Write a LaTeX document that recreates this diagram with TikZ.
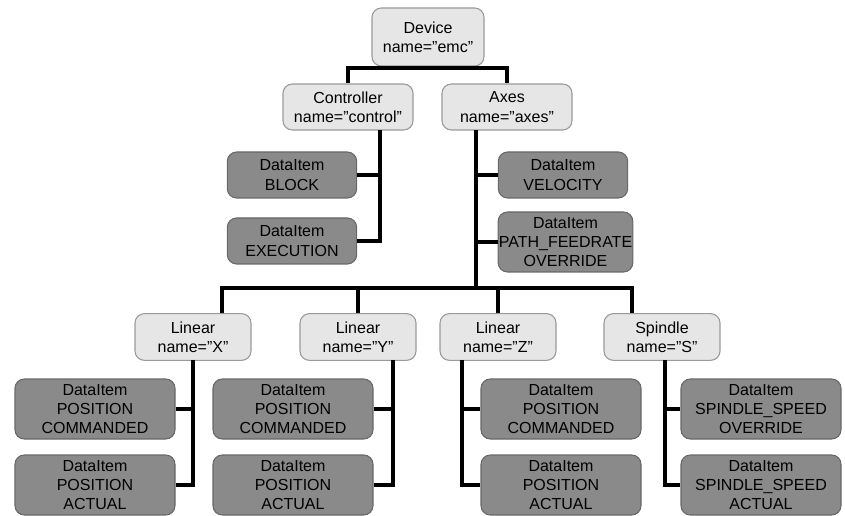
\documentclass[tikz,border=0pt]{standalone}
\usepackage{fontspec}
\setmainfont{Liberation Sans}
\definecolor{lightfill}{HTML}{E6E6E6}
\definecolor{lightline}{HTML}{9A9A9A}
\definecolor{darkfill}{HTML}{8A8A8A}
\definecolor{darkline}{HTML}{686868}
\begin{document}
\begin{tikzpicture}[x=0.75pt,y=-0.75pt,
  every node/.style={font=\fontsize{12}{14.5}\selectfont, align=center, inner sep=0pt},
  lbox/.style={draw=lightline, fill=lightfill, rounded corners=7pt, line width=0.8pt},
  dbox/.style={draw=darkline, fill=darkfill, rounded corners=7pt, line width=0.8pt},
  conn/.style={draw=black, line width=2.6pt}]
\useasboundingbox (0,0) rectangle (845,516);
% top level
\node[lbox, minimum width=84pt, minimum height=43.5pt] (dev) at (428,37) {Device\\name="emc"};
\node[lbox, minimum width=97.5pt, minimum height=34.5pt] (ctl) at (348,107) {Controller\\name="control"};
\node[lbox, minimum width=97.5pt, minimum height=34.5pt] (axs) at (507,107) {Axes\\name="axes"};
% controller items
\node[dbox, minimum width=97pt, minimum height=34.5pt] (blk) at (292,175) {DataItem\\BLOCK};
\node[dbox, minimum width=97pt, minimum height=34.5pt] (exe) at (292,241) {DataItem\\EXECUTION};
% axes items
\node[dbox, minimum width=97pt, minimum height=34.5pt] (vel) at (563,175) {DataItem\\VELOCITY};
\node[dbox, minimum width=101pt, minimum height=45pt] (pfo) at (565.5,242) {DataItem\\PATH\_FEEDRATE\\OVERRIDE};
% components
\node[lbox, minimum width=87pt, minimum height=35pt] (lx) at (193,337) {Linear\\name="X"};
\node[lbox, minimum width=87pt, minimum height=35pt] (ly) at (358,337) {Linear\\name="Y"};
\node[lbox, minimum width=87pt, minimum height=35pt] (lz) at (498,337) {Linear\\name="Z"};
\node[lbox, minimum width=87pt, minimum height=35pt] (sp) at (662,337) {Spindle\\name="S"};
% leaf data items
\node[dbox, minimum width=120pt, minimum height=45pt] (xc) at (95,409) {DataItem\\POSITION\\COMMANDED};
\node[dbox, minimum width=120pt, minimum height=45pt] (xa) at (95,485) {DataItem\\POSITION\\ACTUAL};
\node[dbox, minimum width=120pt, minimum height=45pt] (yc) at (293,409) {DataItem\\POSITION\\COMMANDED};
\node[dbox, minimum width=120pt, minimum height=45pt] (ya) at (293,485) {DataItem\\POSITION\\ACTUAL};
\node[dbox, minimum width=120pt, minimum height=45pt] (zc) at (561,409) {DataItem\\POSITION\\COMMANDED};
\node[dbox, minimum width=120pt, minimum height=45pt] (za) at (561,485) {DataItem\\POSITION\\ACTUAL};
\node[dbox, minimum width=120pt, minimum height=45pt] (sc) at (761,409) {DataItem\\SPINDLE\_SPEED\\OVERRIDE};
\node[dbox, minimum width=120pt, minimum height=45pt] (sa) at (761,485) {DataItem\\SPINDLE\_SPEED\\ACTUAL};
% connector helper coordinates
\coordinate (b1) at (428,68);
\coordinate (cv) at (380,130);
\coordinate (av) at (476,130);
\coordinate (b2) at (476,288);
\coordinate (xt) at (222,313);
\coordinate (st) at (632,313);
\coordinate (xv) at (193,360);
\coordinate (yv) at (393,360);
\coordinate (zv) at (462,360);
\coordinate (sv) at (665,360);
% connectors
\draw[conn] (dev.south) -- (b1);
\draw[conn] (b1) -| (ctl.north);
\draw[conn] (b1) -| (axs.north);
\draw[conn] (cv) |- (blk.east);
\draw[conn] (cv) |- (exe.east);
\draw[conn] (av) |- (vel.west);
\draw[conn] (av) |- (pfo.west);
\draw[conn] (av) -- (b2);
\draw[conn] (b2) -| (xt);
\draw[conn] (b2) -| (st);
\draw[conn] (b2) -| (ly.north);
\draw[conn] (b2) -| (lz.north);
\draw[conn] (xv) |- (xc.east);
\draw[conn] (xv) |- (xa.east);
\draw[conn] (yv) |- (yc.east);
\draw[conn] (yv) |- (ya.east);
\draw[conn] (zv) |- (zc.west);
\draw[conn] (zv) |- (za.west);
\draw[conn] (sv) |- (sc.west);
\draw[conn] (sv) |- (sa.west);
\end{tikzpicture}
\end{document}
